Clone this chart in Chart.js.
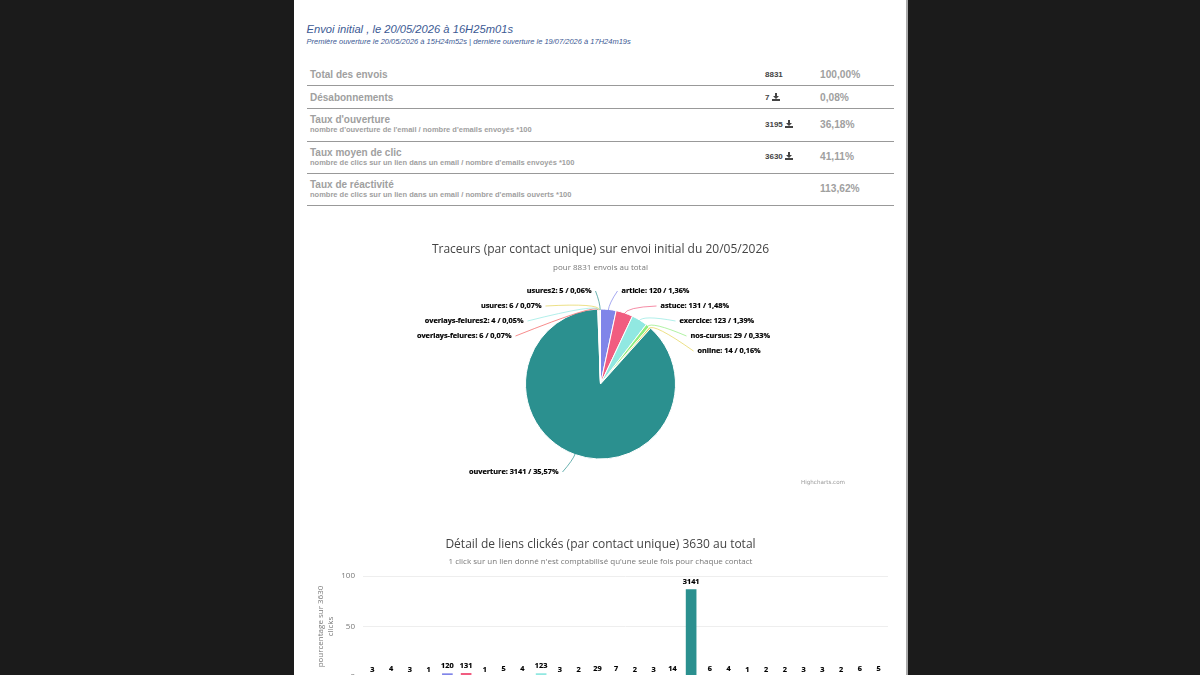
<!DOCTYPE html>
<html>
<head>
<meta charset="utf-8">
<script src="https://cdn.jsdelivr.net/npm/chart.js@4"></script>
<style>
html, body { margin: 0; height: 675px; overflow: hidden; background: #1b1b1b; }
#page { position: absolute; left: 294px; top: 0; width: 614px; height: 675px; background: #fff; overflow: hidden;
  font-family: "Liberation Sans", Arial, sans-serif; border-right: 2px solid #aaa; box-sizing: border-box; }
#page > * { position: absolute; }
h1 { left: 12.5px; top: 23px; margin: 0; font-size: 11.2px; font-weight: normal; font-style: italic; color: #3c5a94; white-space: nowrap; }
h2 { left: 12.5px; top: 37px; margin: 0; font-size: 7.5px; font-weight: normal; font-style: italic; color: #3c5a94; white-space: nowrap; }
.row { position: absolute; left: 13px; width: 587px; border-bottom: 1px solid #999; color: #a0a0a0; box-sizing: border-box; }
.row > * { position: absolute; white-space: nowrap; }
.name { left: 3px; font-size: 10px; font-weight: bold; }
.hint { left: 3px; font-size: 7.5px; font-weight: bold; }
.num { left: 458px; font-size: 8px; font-weight: bold; color: #444; }
.num svg { vertical-align: -1px; }
.pct { left: 513px; font-size: 10.2px; font-weight: bold; }
canvas { display: block; }
#credit { left: 507px; top: 479px; font: 5.6px "DejaVu Sans", sans-serif; color: #999; }
</style>
</head>
<body>
<div id="page">
  <h1>Envoi initial , le 20/05/2026 à 16H25m01s</h1>
  <h2>Première ouverture le 20/05/2026 à 15H24m52s | dernière ouverture le 19/07/2026 à 17H24m19s</h2>
  <div id="rows" style="left:0;top:0"></div>
  <div style="left:0;top:235px;width:613px;height:258px"><canvas id="pieChart"></canvas></div>
  <div id="credit">Highcharts.com</div>
  <div style="left:0;top:530px;width:613px;height:167px"><canvas id="barChart"></canvas></div>
</div>
<script>
// table at the top
var rowNames = ['Total des envois', 'Désabonnements', "Taux d'ouverture", 'Taux moyen de clic', 'Taux de réactivité'];
var rowHints = ['', '', "nombre d'ouverture de l'email / nombre d'emails envoyés *100",
  "nombre de clics sur un lien dans un email / nombre d'emails envoyés *100",
  "nombre de clics sur un lien dans un email / nombre d'emails ouverts *100"];
var rowCounts = ['8831', '7', '3195', '3630', ''];
var rowPcts = ['100,00%', '0,08%', '36,18%', '41,11%', '113,62%'];

// pie
var pieNames = ['article', 'astuce', 'exercice', 'nos-cursus', 'online', 'ouverture', 'overlays-felures', 'overlays-felures2', 'usures', 'usures2'];
var pieValues = [120, 131, 123, 29, 14, 3141, 6, 4, 6, 5];
var piePcts = ['1,36', '1,48', '1,39', '0,33', '0,16', '35,57', '0,07', '0,05', '0,07', '0,06'];

// bars
var barLabels = ['1', '2', '3', '4', '5', '6', '7', '8', '9', '10', '11', '12', '13', '14', '15', '16', '17', '18', '19', '20', '21', '22', '23', '24', '25', '26', '27', '28'];
var barCounts = [3, 4, 3, 1, 120, 131, 1, 5, 4, 123, 3, 2, 29, 7, 2, 3, 14, 3141, 6, 4, 1, 2, 2, 3, 3, 2, 6, 5];
var barPcts = [0.08, 0.11, 0.08, 0.03, 3.31, 3.61, 0.03, 0.14, 0.11, 3.39, 0.08, 0.06, 0.8, 0.19, 0.06, 0.08, 0.39, 86.53, 0.17, 0.11, 0.03, 0.06, 0.06, 0.08, 0.08, 0.06, 0.17, 0.14];
var yTicks = [0, 50, 100];

var palette = ['#7cb5ec', '#434348', '#90ed7d', '#f7a35c', '#8085e9', '#f15c80', '#e4d354', '#2b908f', '#f45b5b', '#91e8e1'];
var pieColors = ['#8085e9', '#f15c80', '#91e8e1', '#90ed7d', '#e4d354', '#2b908f', '#f45b5b', '#91e8e1', '#e4d354', '#2b908f'];

var rowBottoms = [86, 109, 142, 174, 206];
var icon = '<svg width="8" height="8" viewBox="0 0 8 8"><path d="M3 0h2v3h2L4 6 1 3h2zM0 6h8v2H0z" fill="#444"/></svg>';
var html = '';
rowNames.forEach(function (name, i) {
  var bottom = rowBottoms[i], top = i ? rowBottoms[i - 1] : 63, h = bottom - top;
  var hasHint = rowHints[i] !== '';
  var nameTop = hasHint ? 4.5 : h / 2 - 5.5;
  var numTop = hasHint ? Math.ceil(h / 2) - 6 : h / 2 - 5;
  var pctTop = hasHint ? Math.ceil(h / 2) - 7 : h / 2 - 5.5;
  html += '<div class="row" style="top:' + top + 'px;height:' + h + 'px">' +
    '<span class="name" style="top:' + nameTop + 'px">' + name + '</span>' +
    (hasHint ? '<span class="hint" style="top:' + (nameTop + 11) + 'px">' + rowHints[i] + '</span>' : '') +
    '<span class="num" style="top:' + numTop + 'px">' + rowCounts[i] + (i > 0 && i < 4 ? ' ' + icon : '') + '</span>' +
    '<span class="pct" style="top:' + pctTop + 'px">' + rowPcts[i] + '</span></div>';
});
document.getElementById('rows').innerHTML = html;

var titleFont = { family: '"Open Sans"', size: 12, weight: 'normal' };
var subFont = { family: '"Open Sans"', size: 8, weight: 'normal' };
var labelFont = 'bold 7.3px "Open Sans"';

// label anchors relative to pie centre: side (1 = text starts here, -1 = text ends here), dx, dy
var pieLabelSpots = [
  [1, 21, -93], [1, 60, -78], [1, 79, -63], [1, 90, -48], [1, 97, -33],
  [-1, -42, 88], [-1, -89, -48], [-1, -77, -63], [-1, -59, -78], [-1, -9, -93]
];

var pieLabels = {
  id: 'pieLabels',
  afterDatasetsDraw: function (chart) {
    var c = chart.ctx;
    var arcs = chart.getDatasetMeta(0).data;
    c.save();
    c.font = labelFont;
    c.textBaseline = 'middle';
    arcs.forEach(function (arc, i) {
      var mid = (arc.startAngle + arc.endAngle) / 2;
      var spot = pieLabelSpots[i];
      var lx = arc.x + spot[1], ly = arc.y + spot[2];
      var r = arc.outerRadius;
      var sx = arc.x + Math.cos(mid) * (r - 1), sy = arc.y + Math.sin(mid) * (r - 1);
      var ex = arc.x + Math.cos(mid) * (r + 6), ey = arc.y + Math.sin(mid) * (r + 6);
      c.globalAlpha = 0.7;
      c.strokeStyle = pieColors[i];
      c.lineWidth = 1;
      c.beginPath();
      c.moveTo(sx, sy);
      c.quadraticCurveTo(ex, ey, lx - spot[0] * 4, ly);
      c.stroke();
      c.globalAlpha = 1;
      c.fillStyle = '#000';
      c.strokeStyle = '#000';
      c.lineWidth = 0.2;
      c.textAlign = spot[0] > 0 ? 'left' : 'right';
      var text = pieNames[i] + ': ' + pieValues[i] + ' / ' + piePcts[i] + '%';
      c.fillText(text, lx, ly);
      c.strokeText(text, lx, ly);
    });
    c.restore();
  }
};

new Chart(document.getElementById('pieChart'), {
  type: 'pie',
  data: { labels: pieNames, datasets: [{ data: pieValues, backgroundColor: pieColors, borderColor: '#fff', borderWidth: 1, radius: 75 }] },
  options: {
    responsive: true, maintainAspectRatio: false, animation: false,
    plugins: {
      legend: { display: false },
      tooltip: { enabled: false },
      title: { display: true, text: 'Traceurs (par contact unique) sur envoi initial du 20/05/2026', color: '#444', font: titleFont, padding: { top: 7, bottom: 7 } },
      subtitle: { display: true, text: 'pour 8831 envois au total', color: '#777', font: subFont, padding: { bottom: 2 } }
    }
  },
  plugins: [pieLabels]
});

var barValueLabels = {
  id: 'barValueLabels',
  afterDatasetsDraw: function (chart) {
    var c = chart.ctx;
    c.save();
    c.font = labelFont;
    c.fillStyle = '#000';
    c.strokeStyle = '#000';
    c.lineWidth = 0.2;
    c.textAlign = 'center';
    c.textBaseline = 'middle';
    chart.getDatasetMeta(0).data.forEach(function (bar, i) {
      c.fillText(barCounts[i], bar.x, bar.y - 7.5);
      c.strokeText(barCounts[i], bar.x, bar.y - 7.5);
    });
    c.restore();
  }
};

new Chart(document.getElementById('barChart'), {
  type: 'bar',
  data: { labels: barLabels, datasets: [{ data: barPcts, backgroundColor: barLabels.map(function (l, i) { return palette[i % 10]; }), barThickness: 10 }] },
  options: {
    responsive: true, maintainAspectRatio: false, animation: false,
    layout: { padding: { left: 19, right: 19, bottom: 12 } },
    plugins: {
      legend: { display: false },
      tooltip: { enabled: false },
      title: { display: true, text: 'Détail de liens clickés (par contact unique) 3630 au total', color: '#444', font: titleFont, padding: { top: 7, bottom: 6 } },
      subtitle: { display: true, text: "1 click sur un lien donné n'est comptabilisé qu'une seule fois pour chaque contact", color: '#777', font: subFont, padding: { bottom: 9 } }
    },
    scales: {
      x: { ticks: { display: false }, grid: { display: false }, border: { display: false } },
      y: {
        min: 0, max: 100,
        afterFit: function (s) { s.width = 50; },
        afterBuildTicks: function (s) { s.ticks = yTicks.map(function (v) { return { value: v }; }); },
        ticks: { color: '#777', font: { family: '"Open Sans"', size: 8 }, padding: 8 },
        grid: { color: '#eeeeee', drawTicks: false },
        border: { display: false },
        title: { display: true, text: ['pourcentage sur 3630', 'clicks'], color: '#777', font: { family: '"Open Sans"', size: 8 }, padding: { top: 3, bottom: 0 } }
      }
    }
  },
  plugins: [barValueLabels]
});
</script>
</body>
</html>
